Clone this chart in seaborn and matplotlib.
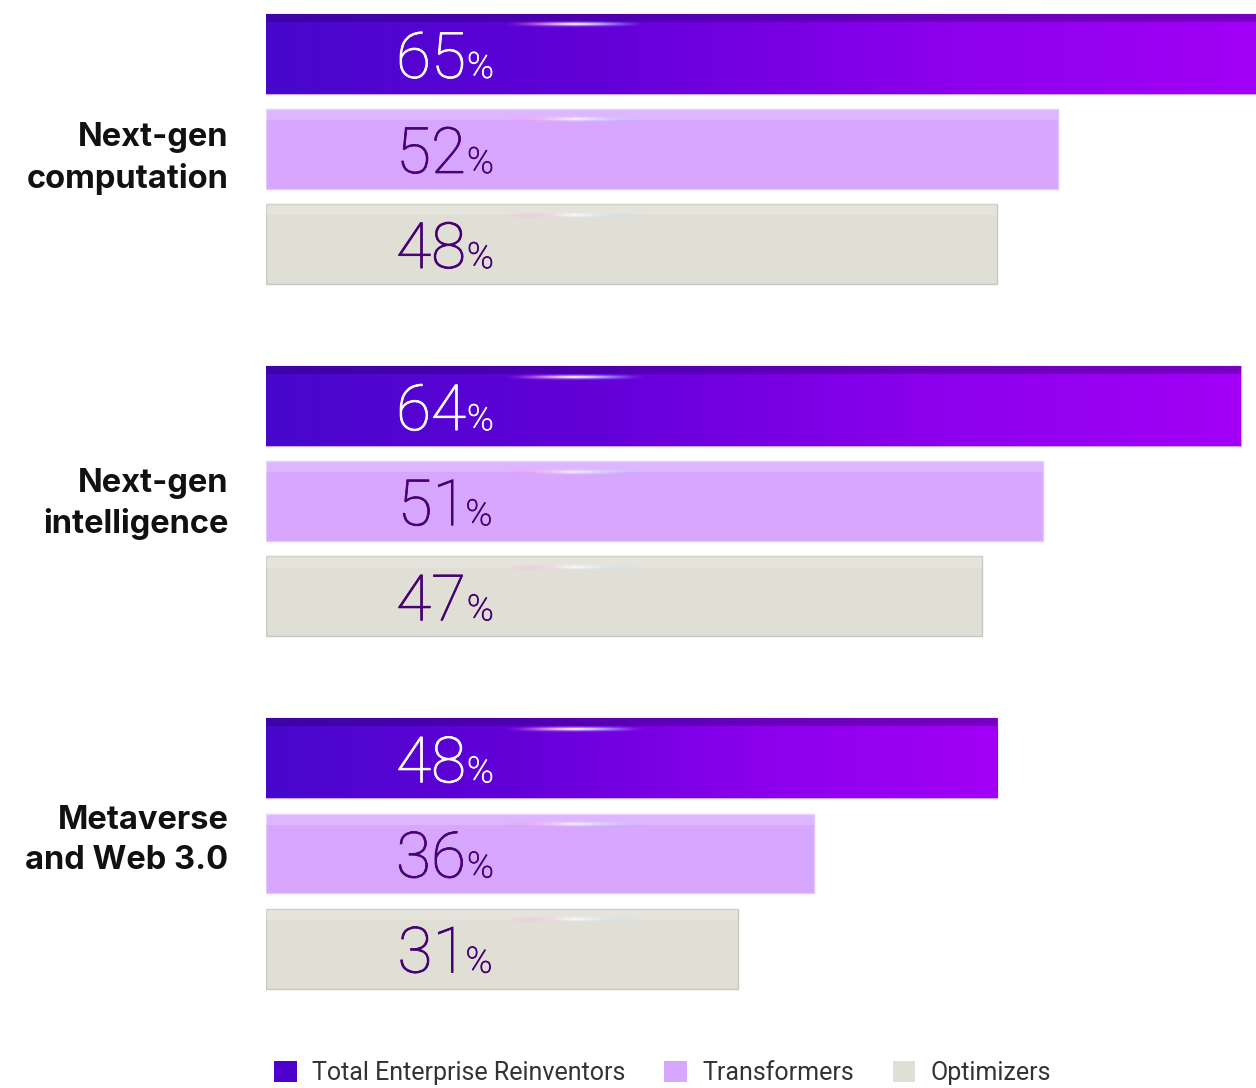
import numpy as np
import pandas as pd
import matplotlib
matplotlib.use("Agg")
import matplotlib.pyplot as plt
import matplotlib.patheffects as pe
from matplotlib.colors import LinearSegmentedColormap, to_rgb
from matplotlib.transforms import blended_transform_factory, ScaledTranslation
import seaborn as sns

categories = ["Next-gen\ncomputation", "Next-gen\nintelligence", "Metaverse\nand Web 3.0"]
series = ["Total Enterprise Reinventors", "Transformers", "Optimizers"]
reinventors = [65, 64, 48]
transformers = [52, 51, 36]
optimizers = [48, 47, 31]

colors = ["#5000CC", "#D7A6FF", "#E0DFD5"]
label_colors = ["white", "#460073", "#460073"]

rows = []
for s, vals in zip(series, [reinventors, transformers, optimizers]):
    for c, v in zip(categories, vals):
        rows.append({"category": c, "series": s, "value": v})
df = pd.DataFrame(rows)

sns.set_theme(style="white")
plt.rcParams["font.family"] = ["Roboto", "DejaVu Sans"]

W, H = 1256, 1088
fig = plt.figure(figsize=(W / 100, H / 100), dpi=100)
ax = fig.add_axes([266 / W, 1 - 1000 / H, 990 / W, 1000 / H])

sns.barplot(data=df, y="category", x="value", hue="series", hue_order=series,
            order=categories, orient="h", palette=colors, width=0.81, gap=0.16,
            ax=ax, legend=True, saturation=1)

XLIM = (0, 65)
YLIM = (2.416, -0.423)

grad = LinearSegmentedColormap.from_list("g", ["#4808CC", "#6200D8", "#8A00EC", "#A200F6"])
edge_cols = ["#C9A8F0", "#E4C6FF", "#C8C8C2"]

for i, cont in enumerate(ax.containers):
    for p in cont.patches:
        x0, y0 = p.get_x(), p.get_y()
        w, h = p.get_width(), p.get_height()
        p.set_edgecolor(edge_cols[i])
        p.set_linewidth(1.0)
        if i == 0:
            g = np.linspace(0, 1, 256).reshape(1, -1)
            im = ax.imshow(g, cmap=grad, extent=[x0, x0 + w, y0 + h, y0],
                           aspect="auto", zorder=2, interpolation="bilinear")
            im.set_clip_path(p)
            top = plt.Rectangle((x0, y0), w, h * 0.1, color="#2A0060", alpha=0.35,
                                lw=0, zorder=2.1)
            ax.add_patch(top)
        else:
            top = plt.Rectangle((x0, y0), w, h * 0.14, color="white", alpha=0.18,
                                lw=0, zorder=2.1)
            ax.add_patch(top)
        # light streak
        ny, nx = 21, 300
        yy = np.linspace(-1, 1, ny)[:, None]
        xx = np.linspace(0, 1, nx)[None, :]
        prof = np.exp(-(yy / 0.3) ** 2) * np.sin(np.pi * xx) ** 1.5
        c1 = np.array(to_rgb("#FF6FC8"))
        c2 = np.array(to_rgb("#FFFFFF"))
        c3 = np.array(to_rgb("#8FD0FF"))
        xs = xx[0]
        col = np.where((xs < 0.5)[:, None],
                       c1[None, :] * (1 - 2 * xs[:, None]) + c2[None, :] * (2 * xs[:, None]),
                       c2[None, :] * (2 - 2 * xs[:, None]) + c3[None, :] * (2 * xs[:, None] - 1))
        rgba = np.zeros((ny, nx, 4))
        rgba[:, :, :3] = col[None, :, :]
        rgba[:, :, 3] = prof * (1.0 if i == 0 else 0.8)
        sx0, sx1 = 15.5, 25.0
        cy = y0 + h * 0.135
        st = ax.imshow(rgba, extent=[sx0, sx1, cy + h * 0.07, cy - h * 0.07],
                       aspect="auto", zorder=2.2, interpolation="bilinear")
        st.set_clip_path(p)

ax.set_xlim(*XLIM)
ax.set_ylim(*YLIM)
ax.set_xlabel("")
ax.set_ylabel("")
ax.set_xticks([])
sns.despine(ax=ax, left=True, bottom=True)
ax.tick_params(axis="y", length=0, labelleft=False)

# category labels (placed at each category's tick position)
label_dy_pt = [-7, -2, 9.3]
ytr = blended_transform_factory(ax.transAxes, ax.transData)
for k, (tick, name) in enumerate(zip(ax.get_yticks(), categories)):
    tr = ytr + ScaledTranslation(-27 / 72, label_dy_pt[k] / 72, fig.dpi_scale_trans)
    ax.text(0, tick, name, transform=tr, ha="right", va="center",
            family=["Inter", "Liberation Sans", "DejaVu Sans"], fontweight="bold",
            fontsize=23.5, color="#111111", linespacing=1.38)

# value labels
fig.canvas.draw()
r = fig.canvas.get_renderer()
inv = ax.transData.inverted()
label_cx_data = 11.75
for i, (cont, vals) in enumerate(zip(ax.containers, [reinventors, transformers, optimizers])):
    for p, v in zip(cont.patches, vals):
        yb = p.get_y() + p.get_height() * 0.8
        t1 = ax.text(0, yb, f"{v}", fontsize=46, fontweight="light", color=label_colors[i],
                     ha="left", va="baseline", zorder=5)
        t2 = ax.text(0, yb, "%", fontsize=26, fontweight="light", color=label_colors[i],
                     ha="left", va="baseline", zorder=5)
        for t in (t1, t2):
            t.set_path_effects([pe.withStroke(linewidth=0.55, foreground=label_colors[i])])
        w1 = t1.get_window_extent(r).width
        w2 = t2.get_window_extent(r).width
        gap = -2 if str(v).endswith("1") else 1
        cx_px = ax.transData.transform((label_cx_data, yb))[0]
        start = cx_px - (w1 + w2 + gap) / 2
        ybpx = ax.transData.transform((0, yb))[1]
        t1.set_x(inv.transform((start, ybpx))[0])
        t2.set_x(inv.transform((start + w1 + gap, ybpx))[0])

sns.move_legend(ax, "center left", bbox_to_anchor=(274 / W, 1 - 1073 / H),
                bbox_transform=fig.transFigure, ncol=3, frameon=False, title=None,
                fontsize=18, handlelength=0.9, handleheight=0.9, handletextpad=0.62,
                columnspacing=1.55, borderaxespad=0, borderpad=0)
leg = ax.get_legend()
for t in leg.get_texts():
    t.set_color("#333333")
    t.set_fontweight("normal")
for hdl in leg.legend_handles:
    hdl.set_edgecolor("none")

fig.savefig("out.png", dpi=100)
